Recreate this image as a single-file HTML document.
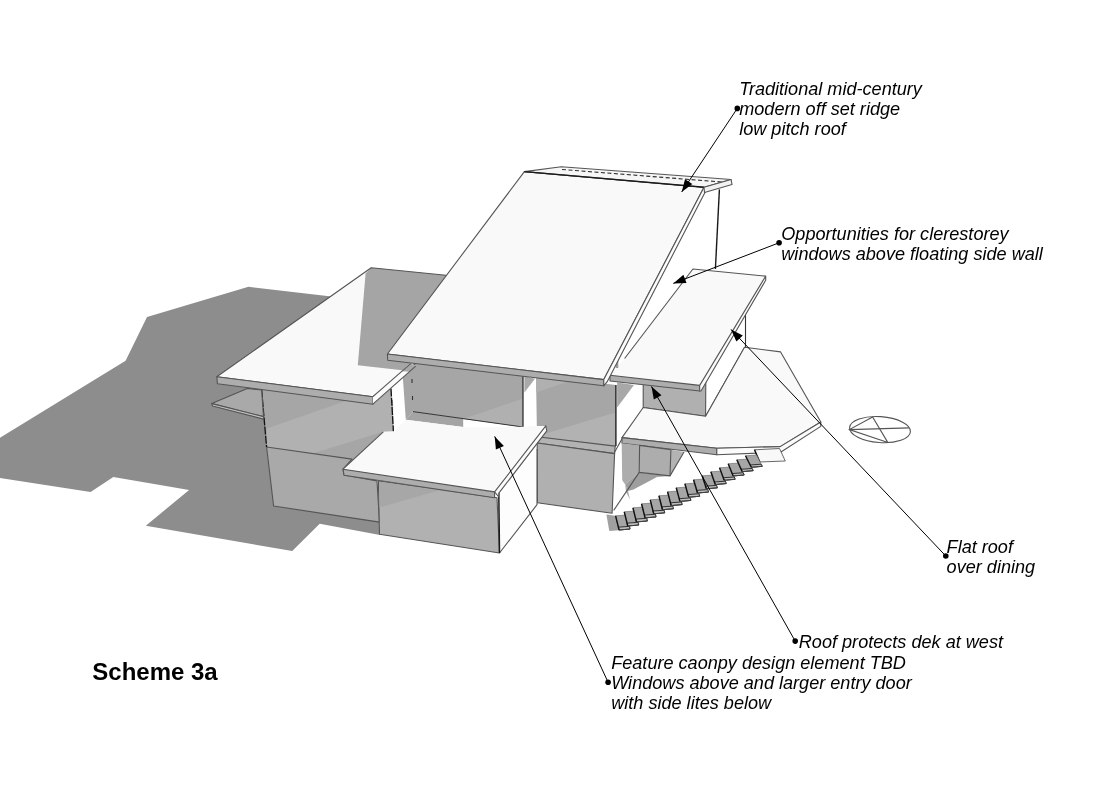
<!DOCTYPE html>
<html><head><meta charset="utf-8">
<style>
html,body{margin:0;padding:0;background:#fff;}
svg{display:block;will-change:transform;}
text{font-family:"Liberation Sans",sans-serif;font-style:italic;font-size:18.1px;fill:#000;}
</style></head>
<body>
<svg width="1117" height="804" viewBox="0 0 1117 804">
<rect x="0" y="0" width="1117" height="804" fill="#fff"/>
<g stroke-linejoin="round">
<!-- ground shadow -->
<polygon fill="#8d8d8d" points="0,437.7 125.6,360.8 147,317 248.5,286.8 331.4,296.4 372,300 372,420 380,535 319.7,523.8 292.2,551 145.8,525.8 189.1,489.9 113.3,477.1 90.6,491.9 0,478.1"/>

<!-- left wing walls -->
<polygon fill="#a6a6a6" points="261.6,383 393,400 393.4,431.5 383.3,431.8 343,469 344,475 377,480.9 379.5,522.1 273.6,506 266.6,447"/>
<polygon fill="#b1b1b1" points="267,428.5 347,400.5 372.9,404.2 391,388 393.4,431.5 383.3,431.8 312.4,453.5 266.6,447"/>
<polygon fill="#a9a9a9" stroke="#555" stroke-width="1.1" points="266.6,447 352,459.1 343,469 344,475 377,480.9 379.5,522.1 273.6,506"/>
<polyline fill="none" stroke="#111" stroke-width="1.3" stroke-dasharray="8,1.2" points="261.6,389.9 266.6,447"/>
<polyline fill="none" stroke="#111" stroke-width="1.3" stroke-dasharray="8,1.2" points="391,388.6 393.4,431.5"/>
<!-- shelf -->
<polygon fill="#a9a9a9" stroke="#555" stroke-width="1.1" points="211.8,403.6 247.3,388.4 261.6,390 263.5,416.6"/>
<polygon fill="#c4c4c4" stroke="#555" stroke-width="1.1" points="211.8,403.6 263.5,416.6 263.5,419.1 212.5,406"/>

<!-- middle upper wall left section -->
<polygon fill="#a6a6a6" points="401.5,358 523,372 523,427 413,411.6 405.8,419.7"/>
<polygon fill="#a4a4a4" points="405.8,419.7 413,411.6 463.2,418.7 463.2,427"/>
<polygon fill="#b0b0b0" points="462.7,419 523,398.6 523,427"/><polyline fill="none" stroke="#333" stroke-width="1" points="413,411.6 523,427"/>
<polyline fill="none" stroke="#222" stroke-width="1.2" points="523,376 523,427"/>
<polyline fill="none" stroke="#333" stroke-width="1.1" points="412,379 412,383"/><polyline fill="none" stroke="#333" stroke-width="1.1" points="412.5,396 412.5,400"/>

<!-- middle upper wall right section -->
<polygon fill="#a6a6a6" points="536,375 615.9,385 615.9,447 537,437.7"/>
<polygon fill="#b0b0b0" points="536.3,374 575,379 536.3,392.6"/>
<polygon fill="#b2b2b2" points="537,436 543.8,434 610.2,413.9 615.9,413 615.9,447"/>
<polygon fill="#b3b3b3" stroke="#555" stroke-width="1.1" points="537.2,436.8 615.2,446.1 614.6,453.6 537.2,443"/>
<polygon fill="#b0b0b0" stroke="#555" stroke-width="1.1" points="537.2,443 614.6,453.6 612.1,513.3 537.4,502.8"/>
<polyline fill="none" stroke="#222" stroke-width="1.4" points="615.9,385 615.9,446"/>
<!-- pillar shadow -->
<polygon fill="#a9a9a9" points="524.4,376.3 535,378.8 524.4,392.6"/>
<!-- gap shadow -->
<polygon fill="#a8a8a8" points="617.1,382.6 634,385 617.1,407.6"/>
<polyline fill="none" stroke="#555" stroke-width="1.1" points="614.4,452.4 623.6,436"/>
<!-- wall under right roof -->
<polygon fill="#b0b0b0" stroke="#555" stroke-width="1.1" points="643.2,380 705.8,380 705.6,416.2 643.2,407.5"/>
<polyline fill="none" stroke="#333" stroke-width="1" points="705.6,416.2 744.5,347.3"/>
<polyline fill="none" stroke="#333" stroke-width="1.1" points="745.5,314.5 745.5,347"/>

<!-- deck -->
<polygon fill="#f9f9f9" stroke="#555" stroke-width="1.1" points="622,437.6 643.2,407.5 705.6,416.2 744.5,347.3 780.6,351.9 820.8,422 780.2,446.6 716.8,448.3"/>
<polygon fill="#adadad" stroke="#555" stroke-width="1.1" points="622,437.6 716.8,448.3 716.8,454.8 622,443.3"/>
<polygon fill="#fbfbfb" stroke="#555" stroke-width="1.1" points="716.8,448.3 780.2,446.6 820.8,422 820.8,426.4 780.6,452.2 716.8,454.8"/>
<!-- under deck -->
<polygon fill="#acacac" points="621.7,443.3 639.6,445.4 639.2,472.4 628,482 625.2,484.6 622.2,480.3"/>
<polygon fill="#9e9e9e" points="639.2,472.4 670,475.9 657,477 633.5,489.4 628,491 625.2,484.6 628,482"/>
<polygon fill="#a8a8a8" points="625.2,484.6 628,491 630,499.4 626,492"/>
<polygon fill="#b3b3b3" points="670.9,449.8 684,452 670,475.9"/>
<polygon fill="#adadad" stroke="#555" stroke-width="1.1" points="639.6,445.4 670.9,449.8 670,475.9 639.2,472.4"/>
<polyline fill="none" stroke="#555" stroke-width="1.1" points="639.2,472.4 613.7,510.4"/>
<polyline fill="none" stroke="#555" stroke-width="1.1" points="684,452 670,475.9"/>
<polygon fill="#f9f9f9" points="393.5,432 405.8,419.7 463.2,427 523,427 535.6,426 546,425.9 546,431 383.3,431.8"/>
<!-- canopy front block -->
<polygon fill="#b1b1b1" stroke="#555" stroke-width="1.1" points="378.4,481 497,497.8 499.5,553 379.5,534.3"/>
<polygon fill="#a7a7a7" points="379,481.5 496,498 438.5,490.5 379.4,507.5"/>
<polygon fill="#fdfdfd" points="499.5,497.8 537,449 537,504.7 499.5,553"/><polyline fill="none" stroke="#555" stroke-width="1.1" points="537,449 537,504.7 499.5,553"/><polyline fill="none" stroke="#1a1a1a" stroke-width="1.5" points="498.8,493 499.5,553"/>
<!-- canopy -->
<polygon fill="#f9f9f9" points="343,469.2 383.3,431.8 545.8,425.9 494.6,491.9"/><polyline fill="none" stroke="#555" stroke-width="1.1" points="383.3,431.8 343,469.2"/>
<polygon fill="#adadad" stroke="#555" stroke-width="1.1" points="343,469.2 494.6,491.9 494.6,497.8 344,475.2"/>
<polygon fill="#fbfbfb" stroke="#555" stroke-width="1.1" points="494.6,491.9 545.8,425.9 546.8,430.8 498.8,493.2 498.8,497"/>

<!-- left roof -->
<polygon fill="#f9f9f9" points="216.8,376.8 371.2,267.8 446,275.3 460,300 414.9,364 372.9,396.7"/>
<polygon fill="#a5a5a5" points="365.6,273.4 371.2,267.8 446,275.3 450,310 409.8,363.6 402.3,370.3 357.8,365.2"/>
<polygon fill="none" stroke="#555" stroke-width="1.1" points="216.8,376.8 371.2,267.8 446,275.3 460,300 414.9,364 372.9,396.7"/>
<polygon fill="#adadad" stroke="#555" stroke-width="1.1" points="216.8,376.8 372.9,396.7 372.9,404.2 217.4,383.7"/>
<polygon fill="#fbfbfb" points="372.9,396.7 410.9,363.3 415.7,366.2 372.9,404.2"/><polygon fill="#a8a8a8" points="401.7,371.3 410.9,363.3 415.7,366.2 409.5,371.8"/><polyline fill="none" stroke="#555" stroke-width="1.1" points="372.9,396.7 410.9,363.3"/><polyline fill="none" stroke="#555" stroke-width="1.1" points="372.9,404.2 415.7,366.2"/>

<!-- right roof -->
<polygon fill="#f9f9f9" points="610,375.3 624.6,358.5 692.9,269 765.7,276.1 699.7,385.4"/><polyline fill="none" stroke="#555" stroke-width="1.1" points="624.6,358.5 692.9,269 765.7,276.1"/>
<polygon fill="#adadad" stroke="#555" stroke-width="1.1" points="610,375.3 699.7,385.4 699.7,391 610,381"/>
<polygon fill="#fbfbfb" stroke="#555" stroke-width="1.1" points="699.7,385.4 765.7,276.1 765.7,280.2 701,391 699.7,391"/>
<!-- vertical wall line -->
<polyline fill="none" stroke="#1a1a1a" stroke-width="1.4" points="719.4,189.4 715.4,269"/>

<polygon fill="#9a9a9a" points="615.7,361 618.3,360.5 618.3,368 615.7,368"/>
<!-- main roof -->
<polygon fill="#f9f9f9" stroke="#555" stroke-width="1.1" points="524.4,171.6 704,187.3 603.8,379.6 387.4,354"/>
<polygon fill="#adadad" stroke="#555" stroke-width="1.1" points="387.4,354 603.8,379.6 603.8,385.8 387.7,360.3"/>
<polygon fill="#fdfdfd" stroke="#555" stroke-width="1.1" points="603.8,379.6 704,187.3 707,188.5 607.2,381.7 603.8,385.8"/>
<!-- ridge -->
<polygon fill="#f6f6f6" stroke="#555" stroke-width="1.1" points="524.4,171.6 561.3,166.7 731.1,179.5 704,187.3"/>
<polyline fill="none" stroke="#333" stroke-width="1.1" stroke-dasharray="4,2.5" points="562,169.5 722,182"/><polyline fill="none" stroke="#1a1a1a" stroke-width="1.4" points="524.4,171.6 704,187.3"/>
<polygon fill="#f2f2f2" stroke="#555" stroke-width="1.1" points="704,187.3 731.1,179.5 732,184.5 704.5,192.5"/>
</g>

<!-- stairs -->
<g id="stairs" stroke="#222" stroke-width="0.9"><polygon fill="#f8f8f8" stroke="#444" stroke-width="0.8" points="754.5,449.8 779.5,448.5 785.3,461 759.8,462"/><line x1="754.5" y1="449.8" x2="759.8" y2="462" stroke="#111" stroke-width="1.4"/><polygon fill="#a0a0a0" stroke="none" points="606.4,514.4 615.6,515.8 619.2,530.2 609.3,530.9"/><polygon fill="#a6a6a6" stroke="#666" stroke-width="0.6" points="615.60,515.80 626.60,515.00 630.10,529.00 619.10,530.00"/><polygon fill="#bdbdbd" points="618.40,527.16 629.40,526.36 630.10,529.00 619.10,530.00"/><line x1="615.60" y1="515.80" x2="619.10" y2="530.00" stroke="#111" stroke-width="1.4"/><line x1="619.10" y1="530.00" x2="630.10" y2="529.00" stroke="#444" stroke-width="0.9"/><polygon fill="#a6a6a6" stroke="#666" stroke-width="0.6" points="624.26,511.80 635.26,511.00 638.76,524.99 627.76,525.99"/><polygon fill="#bdbdbd" points="627.06,523.15 638.06,522.35 638.76,524.99 627.76,525.99"/><line x1="624.26" y1="511.80" x2="627.76" y2="525.99" stroke="#111" stroke-width="1.4"/><line x1="627.76" y1="525.99" x2="638.76" y2="524.99" stroke="#444" stroke-width="0.9"/><polygon fill="#a6a6a6" stroke="#666" stroke-width="0.6" points="632.92,507.80 643.92,507.00 647.43,520.95 636.43,521.95"/><polygon fill="#bdbdbd" points="635.72,519.12 646.72,518.32 647.43,520.95 636.43,521.95"/><line x1="632.92" y1="507.80" x2="636.43" y2="521.95" stroke="#111" stroke-width="1.4"/><line x1="636.43" y1="521.95" x2="647.43" y2="520.95" stroke="#444" stroke-width="0.9"/><polygon fill="#a6a6a6" stroke="#666" stroke-width="0.6" points="641.58,503.80 652.58,503.00 656.10,516.89 645.10,517.89"/><polygon fill="#bdbdbd" points="644.39,515.07 655.39,514.27 656.10,516.89 645.10,517.89"/><line x1="641.58" y1="503.80" x2="645.10" y2="517.89" stroke="#111" stroke-width="1.4"/><line x1="645.10" y1="517.89" x2="656.10" y2="516.89" stroke="#444" stroke-width="0.9"/><polygon fill="#a6a6a6" stroke="#666" stroke-width="0.6" points="650.24,499.80 661.24,499.00 664.78,512.81 653.78,513.81"/><polygon fill="#bdbdbd" points="653.07,511.01 664.07,510.21 664.78,512.81 653.78,513.81"/><line x1="650.24" y1="499.80" x2="653.78" y2="513.81" stroke="#111" stroke-width="1.4"/><line x1="653.78" y1="513.81" x2="664.78" y2="512.81" stroke="#444" stroke-width="0.9"/><polygon fill="#a6a6a6" stroke="#666" stroke-width="0.6" points="658.90,495.80 669.90,495.00 673.49,508.70 662.49,509.70"/><polygon fill="#bdbdbd" points="661.77,506.92 672.77,506.12 673.49,508.70 662.49,509.70"/><line x1="658.90" y1="495.80" x2="662.49" y2="509.70" stroke="#111" stroke-width="1.4"/><line x1="662.49" y1="509.70" x2="673.49" y2="508.70" stroke="#444" stroke-width="0.9"/><polygon fill="#a6a6a6" stroke="#666" stroke-width="0.6" points="667.56,491.80 678.56,491.00 682.21,504.57 671.21,505.57"/><polygon fill="#bdbdbd" points="670.48,502.81 681.48,502.01 682.21,504.57 671.21,505.57"/><line x1="667.56" y1="491.80" x2="671.21" y2="505.57" stroke="#111" stroke-width="1.4"/><line x1="671.21" y1="505.57" x2="682.21" y2="504.57" stroke="#444" stroke-width="0.9"/><polygon fill="#a6a6a6" stroke="#666" stroke-width="0.6" points="676.22,487.80 687.22,487.00 690.95,500.41 679.95,501.41"/><polygon fill="#bdbdbd" points="679.21,498.69 690.21,497.89 690.95,500.41 679.95,501.41"/><line x1="676.22" y1="487.80" x2="679.95" y2="501.41" stroke="#111" stroke-width="1.4"/><line x1="679.95" y1="501.41" x2="690.95" y2="500.41" stroke="#444" stroke-width="0.9"/><polygon fill="#a6a6a6" stroke="#666" stroke-width="0.6" points="684.88,483.80 695.88,483.00 699.73,496.23 688.73,497.23"/><polygon fill="#bdbdbd" points="687.96,494.55 698.96,493.75 699.73,496.23 688.73,497.23"/><line x1="684.88" y1="483.80" x2="688.73" y2="497.23" stroke="#111" stroke-width="1.4"/><line x1="688.73" y1="497.23" x2="699.73" y2="496.23" stroke="#444" stroke-width="0.9"/><polygon fill="#a6a6a6" stroke="#666" stroke-width="0.6" points="693.54,479.80 704.54,479.00 708.54,492.03 697.54,493.03"/><polygon fill="#bdbdbd" points="696.74,490.38 707.74,489.58 708.54,492.03 697.54,493.03"/><line x1="693.54" y1="479.80" x2="697.54" y2="493.03" stroke="#111" stroke-width="1.4"/><line x1="697.54" y1="493.03" x2="708.54" y2="492.03" stroke="#444" stroke-width="0.9"/><polygon fill="#a6a6a6" stroke="#666" stroke-width="0.6" points="702.20,475.80 713.20,475.00 717.38,487.80 706.38,488.80"/><polygon fill="#bdbdbd" points="705.55,486.20 716.55,485.40 717.38,487.80 706.38,488.80"/><line x1="702.20" y1="475.80" x2="706.38" y2="488.80" stroke="#111" stroke-width="1.4"/><line x1="706.38" y1="488.80" x2="717.38" y2="487.80" stroke="#444" stroke-width="0.9"/><polygon fill="#a6a6a6" stroke="#666" stroke-width="0.6" points="710.86,471.80 721.86,471.00 726.27,483.55 715.27,484.55"/><polygon fill="#bdbdbd" points="714.39,482.00 725.39,481.20 726.27,483.55 715.27,484.55"/><line x1="710.86" y1="471.80" x2="715.27" y2="484.55" stroke="#111" stroke-width="1.4"/><line x1="715.27" y1="484.55" x2="726.27" y2="483.55" stroke="#444" stroke-width="0.9"/><polygon fill="#a6a6a6" stroke="#666" stroke-width="0.6" points="719.52,467.80 730.52,467.00 735.20,479.27 724.20,480.27"/><polygon fill="#bdbdbd" points="723.26,477.78 734.26,476.98 735.20,479.27 724.20,480.27"/><line x1="719.52" y1="467.80" x2="724.20" y2="480.27" stroke="#111" stroke-width="1.4"/><line x1="724.20" y1="480.27" x2="735.20" y2="479.27" stroke="#444" stroke-width="0.9"/><polygon fill="#a6a6a6" stroke="#666" stroke-width="0.6" points="728.18,463.80 739.18,463.00 744.18,474.97 733.18,475.97"/><polygon fill="#bdbdbd" points="732.18,473.54 743.18,472.74 744.18,474.97 733.18,475.97"/><line x1="728.18" y1="463.80" x2="733.18" y2="475.97" stroke="#111" stroke-width="1.4"/><line x1="733.18" y1="475.97" x2="744.18" y2="474.97" stroke="#444" stroke-width="0.9"/><polygon fill="#a6a6a6" stroke="#666" stroke-width="0.6" points="736.84,459.80 747.84,459.00 753.21,470.65 742.21,471.65"/><polygon fill="#bdbdbd" points="741.14,469.28 752.14,468.48 753.21,470.65 742.21,471.65"/><line x1="736.84" y1="459.80" x2="742.21" y2="471.65" stroke="#111" stroke-width="1.4"/><line x1="742.21" y1="471.65" x2="753.21" y2="470.65" stroke="#444" stroke-width="0.9"/><polygon fill="#a6a6a6" stroke="#666" stroke-width="0.6" points="745.50,455.80 756.50,455.00 762.30,466.30 751.30,467.30"/><polygon fill="#bdbdbd" points="750.14,465.00 761.14,464.20 762.30,466.30 751.30,467.30"/><line x1="745.50" y1="455.80" x2="751.30" y2="467.30" stroke="#111" stroke-width="1.4"/><line x1="751.30" y1="467.30" x2="762.30" y2="466.30" stroke="#444" stroke-width="0.9"/></g>

<!-- compass -->
<g fill="none" stroke="#555" stroke-width="1.1">
<ellipse cx="880" cy="429.6" rx="30.5" ry="13" transform="rotate(4 880 429.6)"/>
<polyline points="887.9,442.6 849.4,429.6 872.6,417 887.9,442.6"/>
<polyline points="849.4,429.6 909.2,427.9"/>
</g>

<!-- annotation leaders -->
<g stroke="#000" stroke-width="1" fill="#000">
<line x1="737.3" y1="108.4" x2="681.7" y2="192"/>
<line x1="779.1" y1="242.8" x2="673.3" y2="283.4"/>
<line x1="945.8" y1="556" x2="731" y2="329.4"/>
<line x1="795.2" y1="641.1" x2="651.5" y2="386.5"/>
<line x1="608.1" y1="682.3" x2="494.7" y2="436.4"/>
<circle cx="737.3" cy="108.4" r="2.8" stroke="none"/>
<circle cx="779.1" cy="242.8" r="2.8" stroke="none"/>
<circle cx="945.8" cy="556" r="2.8" stroke="none"/>
<circle cx="795.2" cy="641.1" r="2.8" stroke="none"/>
<circle cx="608.1" cy="682.3" r="2.8" stroke="none"/>
</g>
<g id="arrows" fill="#000"><polygon points="681.7,192.0 685.0,179.2 692.3,184.0"/><polygon points="673.3,283.4 683.4,274.8 686.5,283.0"/><polygon points="731.0,329.4 742.8,335.4 736.4,341.5"/><polygon points="651.5,386.5 661.5,395.2 653.8,399.5"/><polygon points="494.7,436.4 503.9,445.9 495.9,449.6"/></g>

<!-- text -->
<text x="739.2" y="94.5">Traditional mid-century</text>
<text x="739.2" y="114.5">modern off set ridge</text>
<text x="739.2" y="135">low pitch roof</text>
<text x="781.3" y="240.2">Opportunities for clerestorey</text>
<text x="781.3" y="259.5">windows above floating side wall</text>
<text x="946.6" y="552.5">Flat roof</text>
<text x="946.6" y="572.6">over dining</text>
<text x="798.8" y="647.8">Roof protects dek at west</text>
<text x="611.2" y="668.5">Feature caonpy design element TBD</text>
<text x="611.2" y="688.8">Windows above and larger entry door</text>
<text x="611.2" y="709">with side lites below</text>
<text x="92.3" y="680.1" style="font-style:normal;font-weight:bold;font-size:24px">Scheme 3a</text>
</svg>
</body></html>
